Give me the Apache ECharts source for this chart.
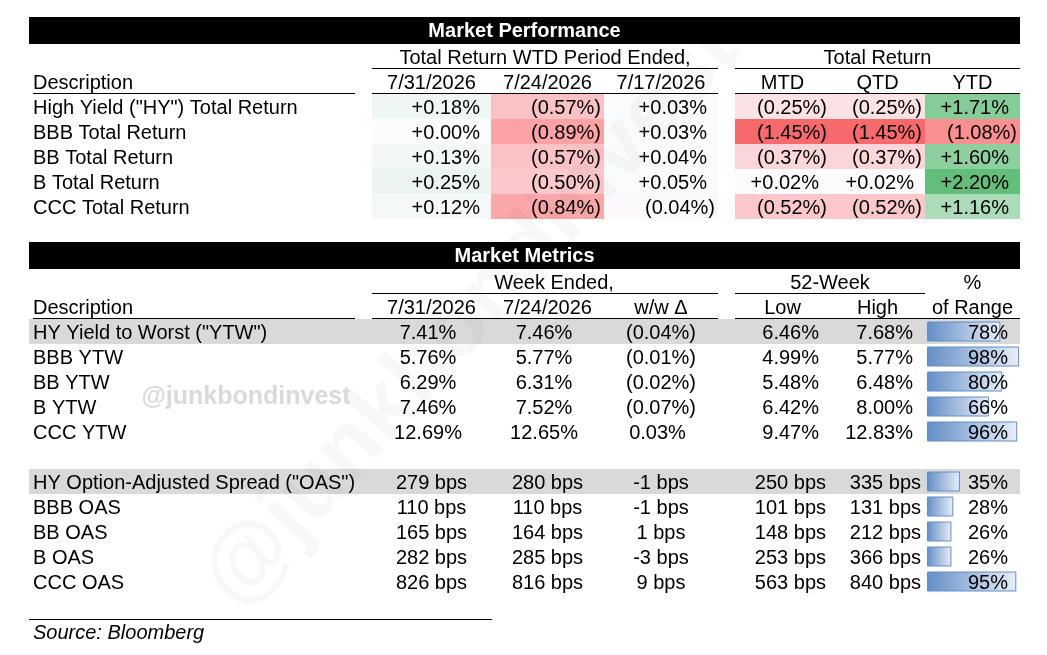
<!DOCTYPE html>
<html>
<head>
<meta charset="utf-8">
<script src="https://cdn.jsdelivr.net/npm/echarts@6/dist/echarts.min.js"></script>
<style>
  html, body { margin: 0; padding: 0; background: #fff; }
  #main { width: 1047px; height: 655px; }
</style>
</head>
<body>
<div id="main"></div>
<script>
// ---- Market Performance ----
const perfRows = ['High Yield ("HY") Total Return', 'BBB Total Return', 'BB Total Return', 'B Total Return', 'CCC Total Return'];
const perfDates = ['7/31/2026', '7/24/2026', '7/17/2026'];
const perfPeriods = ['MTD', 'QTD', 'YTD'];
const wtdLatest = [0.18, 0.00, 0.13, 0.25, 0.12];
const wtdPrior = [-0.57, -0.89, -0.57, -0.50, -0.84];
const wtdEarlier = [0.03, 0.03, 0.04, 0.05, -0.04];
const mtdReturn = [-0.25, -1.45, -0.37, 0.02, -0.52];
const qtdReturn = [-0.25, -1.45, -0.37, 0.02, -0.52];
const ytdReturn = [1.71, -1.08, 1.60, 2.20, 1.16];

// ---- Market Metrics ----
const metricDates = ['7/31/2026', '7/24/2026'];
const ytwRows = ['HY Yield to Worst ("YTW")', 'BBB YTW', 'BB YTW', 'B YTW', 'CCC YTW'];
const ytwLatest = [7.41, 5.76, 6.29, 7.46, 12.69];
const ytwPrior = [7.46, 5.77, 6.31, 7.52, 12.65];
const ytwChange = [-0.04, -0.01, -0.02, -0.07, 0.03];
const ytwLow = [6.46, 4.99, 5.48, 6.42, 9.47];
const ytwHigh = [7.68, 5.77, 6.48, 8.00, 12.83];
const ytwRange = [78, 98, 80, 66, 96];

const oasRows = ['HY Option-Adjusted Spread ("OAS")', 'BBB OAS', 'BB OAS', 'B OAS', 'CCC OAS'];
const oasLatest = [279, 110, 165, 282, 826];
const oasPrior = [280, 110, 164, 285, 816];
const oasChange = [-1, -1, 1, -3, 9];
const oasLow = [250, 101, 148, 253, 563];
const oasHigh = [335, 131, 212, 366, 840];
const oasRange = [35, 28, 26, 26, 95];

// layout (pixels across, rows of 25px down)
const ROWS = 25;
const L = 29, R = 1020, TXT = 33, DESC_END = 355;
const COL = [[372, 491], [491, 604], [604, 718], [735, 830], [830, 925], [925, 1020]];
const FAM = '"Liberation Sans", Arial, sans-serif';
const FONT = '20px ' + FAM;

const perfCols = [wtdLatest, wtdPrior, wtdEarlier, mtdReturn, qtdReturn, ytdReturn];
const allPerf = [].concat(...perfCols);
const perfMin = Math.min(...allPerf), perfMax = Math.max(...allPerf);
function heat(v) {
  return v < 0
    ? echarts.color.lerp(v / perfMin, ['#FCFCFF', '#F8696B'])
    : echarts.color.lerp(v / perfMax, ['#FCFCFF', '#63BE7B']);
}
const acct = v => v < 0 ? '(' + Math.abs(v).toFixed(2) + '%)' : '+' + v.toFixed(2) + '%';
const pctParen = v => v < 0 ? '(' + Math.abs(v).toFixed(2) + '%)' : v.toFixed(2) + '%';

const cells = [];
const front = [];
function cell(list, x0, x1, row, o) { list.push(Object.assign({ x0: x0, x1: x1, row: row }, o || {})); }

// top table
cell(cells, L, R, 0, { fill: '#000', grow: 2, text: 'Market Performance', color: '#fff', bold: true });
cell(cells, COL[0][0], COL[2][1], 1, { text: 'Total Return WTD Period Ended,', line: true });
cell(cells, COL[3][0], COL[5][1], 1, { text: 'Total Return', line: true });
cell(cells, TXT, DESC_END, 2, { text: 'Description', align: 'left', line: true });
cell(cells, COL[0][0], COL[2][1], 2, { line: true });
cell(cells, COL[3][0], COL[5][1], 2, { line: true });
perfDates.forEach((d, k) => cell(cells, COL[k][0], COL[k][1], 2, { text: d }));
perfPeriods.forEach((d, k) => cell(cells, COL[k + 3][0], COL[k + 3][1], 2, { text: d }));
perfRows.forEach((name, i) => {
  cell(cells, TXT, DESC_END, 3 + i, { text: name, align: 'left' });
  perfCols.forEach((vals, k) => {
    const v = vals[i];
    cell(cells, COL[k][0], COL[k][1], 3 + i, { fill: heat(v), text: acct(v), align: 'right', dx: v < 0 ? -3 : -11 });
  });
});

// bottom table
cell(cells, L, R, 9, { fill: '#000', grow: 2, text: 'Market Metrics', color: '#fff', bold: true });
cell(cells, L, R, 12, { fill: '#D9D9D9' });
cell(cells, L, R, 18, { fill: '#D9D9D9' });
cell(cells, COL[0][0], COL[2][1], 10, { text: 'Week Ended,', dx: 9, line: true });
cell(cells, COL[3][0], COL[4][1], 10, { text: '52-Week', line: true });
cell(cells, COL[5][0], COL[5][1], 10, { text: '%' });
cell(cells, TXT, DESC_END, 11, { text: 'Description', align: 'left', line: true });
cell(cells, COL[0][0], COL[2][1], 11, { line: true });
cell(cells, COL[3][0], COL[5][1], 11, { line: true });
metricDates.forEach((d, k) => cell(cells, COL[k][0], COL[k][1], 11, { text: d }));
cell(cells, COL[2][0], COL[2][1], 11, { text: 'w/w \u0394' });
cell(cells, COL[3][0], COL[3][1], 11, { text: 'Low' });
cell(cells, COL[4][0], COL[4][1], 11, { text: 'High' });
cell(cells, COL[5][0], COL[5][1], 11, { text: 'of Range' });

ytwRows.forEach((name, i) => {
  const r = 12 + i;
  cell(cells, TXT, DESC_END, r, { text: name, align: 'left' });
  cell(cells, COL[0][0], COL[0][1], r, { text: ytwLatest[i].toFixed(2) + '%', dx: -3.5 });
  cell(cells, COL[1][0], COL[1][1], r, { text: ytwPrior[i].toFixed(2) + '%', dx: -3.5 });
  cell(cells, COL[2][0], COL[2][1], r, { text: pctParen(ytwChange[i]), dx: ytwChange[i] < 0 ? 0 : -3.5 });
  cell(cells, COL[3][0], COL[3][1], r, { text: ytwLow[i].toFixed(2) + '%', align: 'right', dx: -11 });
  cell(cells, COL[4][0], COL[4][1], r, { text: ytwHigh[i].toFixed(2) + '%', align: 'right', dx: -12 });
  cell(front, COL[5][0], COL[5][1], r, { text: ytwRange[i] + '%', align: 'right', dx: -12 });
});
oasRows.forEach((name, i) => {
  const r = 18 + i;
  cell(cells, TXT, DESC_END, r, { text: name, align: 'left' });
  cell(cells, COL[0][0], COL[0][1], r, { text: oasLatest[i] + ' bps' });
  cell(cells, COL[1][0], COL[1][1], r, { text: oasPrior[i] + ' bps' });
  cell(cells, COL[2][0], COL[2][1], r, { text: oasChange[i] + ' bps' });
  cell(cells, COL[3][0], COL[3][1], r, { text: oasLow[i] + ' bps', align: 'right', dx: -4 });
  cell(cells, COL[4][0], COL[4][1], r, { text: oasHigh[i] + ' bps', align: 'right', dx: -4 });
  cell(front, COL[5][0], COL[5][1], r, { text: oasRange[i] + '%', align: 'right', dx: -12 });
});
cell(cells, L, 492, 24, { lineTop: true, text: 'Source: Bloomberg', align: 'left', italic: true, dx: TXT - L });

function tableSeries(list, z) {
  return {
    type: 'custom',
    xAxisIndex: 0, yAxisIndex: 0, z: z,
    silent: true,
    encode: { x: [0, 2], y: 1 },
    data: list.map(c => [c.x0, c.row, c.x1]),
    renderItem: function (params, api) {
      const c = list[params.dataIndex];
      const a = api.coord([api.value(0), api.value(1)]);
      const b = api.coord([api.value(2), api.value(1)]);
      const h = api.size([0, 1])[1];
      const top = a[1] - h / 2;
      const kids = [];
      if (c.fill) {
        const g = c.grow || 0;
        kids.push({ type: 'rect', shape: { x: a[0], y: top - g, width: b[0] - a[0], height: h + g }, style: { fill: c.fill } });
      }
      if (c.line) {
        kids.push({ type: 'line', shape: { x1: a[0], y1: top + h - 0.5, x2: b[0], y2: top + h - 0.5 }, style: { stroke: '#000', lineWidth: 1 } });
      }
      if (c.lineTop) {
        kids.push({ type: 'line', shape: { x1: a[0], y1: top + 0.5, x2: b[0], y2: top + 0.5 }, style: { stroke: '#000', lineWidth: 1 } });
      }
      if (c.text != null) {
        const align = c.align || 'center';
        let x = align === 'left' ? a[0] : align === 'right' ? b[0] : (a[0] + b[0]) / 2;
        x += c.dx || 0;
        const font = (c.italic ? 'italic ' : '') + (c.bold ? 'bold 20px ' + FAM : FONT);
        kids.push({
          type: 'text',
          style: {
            x: x, y: a[1] + (c.bold ? 0 : 1.5), text: c.text, fill: c.color || '#000', font: font,
            textAlign: align, textVerticalAlign: 'middle', align: align, verticalAlign: 'middle'
          }
        });
      }
      return { type: 'group', children: kids };
    }
  };
}

const rowCats = Array.from({ length: ROWS }, (_, i) => 'r' + i);
const rangeBars = rowCats.map(() => '-');
ytwRange.forEach((v, i) => { rangeBars[12 + i] = v; });
oasRange.forEach((v, i) => { rangeBars[18 + i] = v; });

const chart = echarts.init(document.getElementById('main'));
chart.setOption({
  animation: false,
  backgroundColor: '#fff',
  grid: [
    { left: 0, right: 0, top: 19, height: ROWS * 25 },
    { left: COL[5][0] + 2, width: 94, top: 19, height: ROWS * 25 }
  ],
  xAxis: [
    { type: 'value', gridIndex: 0, min: 0, max: 1047, show: false },
    { type: 'value', gridIndex: 1, min: 0, max: 100, show: false }
  ],
  yAxis: [
    { type: 'category', gridIndex: 0, data: rowCats, inverse: true, show: false },
    { type: 'category', gridIndex: 1, data: rowCats, inverse: true, show: false }
  ],
  series: [
    tableSeries(cells, 1),
    {
      type: 'bar',
      xAxisIndex: 1, yAxisIndex: 1, z: 2,
      silent: true,
      barWidth: 20,
      data: rangeBars,
      itemStyle: {
        color: new echarts.graphic.LinearGradient(0, 0, 1, 0, [
          { offset: 0, color: '#638EC6' },
          { offset: 1, color: '#E8EEF8' }
        ]),
        borderColor: '#638EC6',
        borderWidth: 1
      }
    },
    tableSeries(front, 3)
  ],
  graphic: [
    {
      type: 'text', x: 472, y: 315, rotation: 48 * Math.PI / 180, z: 100, silent: true,
      style: {
        text: '@junkbondinvest', font: 'bold 90px ' + FAM, fill: 'rgba(0,0,0,0.028)',
        textAlign: 'center', textVerticalAlign: 'middle', align: 'center', verticalAlign: 'middle'
      }
    },
    {
      type: 'text', x: 246, y: 397, z: 100, silent: true,
      style: {
        text: '@junkbondinvest', font: 'bold 25px ' + FAM, fill: '#DADADA',
        textAlign: 'center', textVerticalAlign: 'middle', align: 'center', verticalAlign: 'middle'
      }
    }
  ]
});
</script>
</body>
</html>
